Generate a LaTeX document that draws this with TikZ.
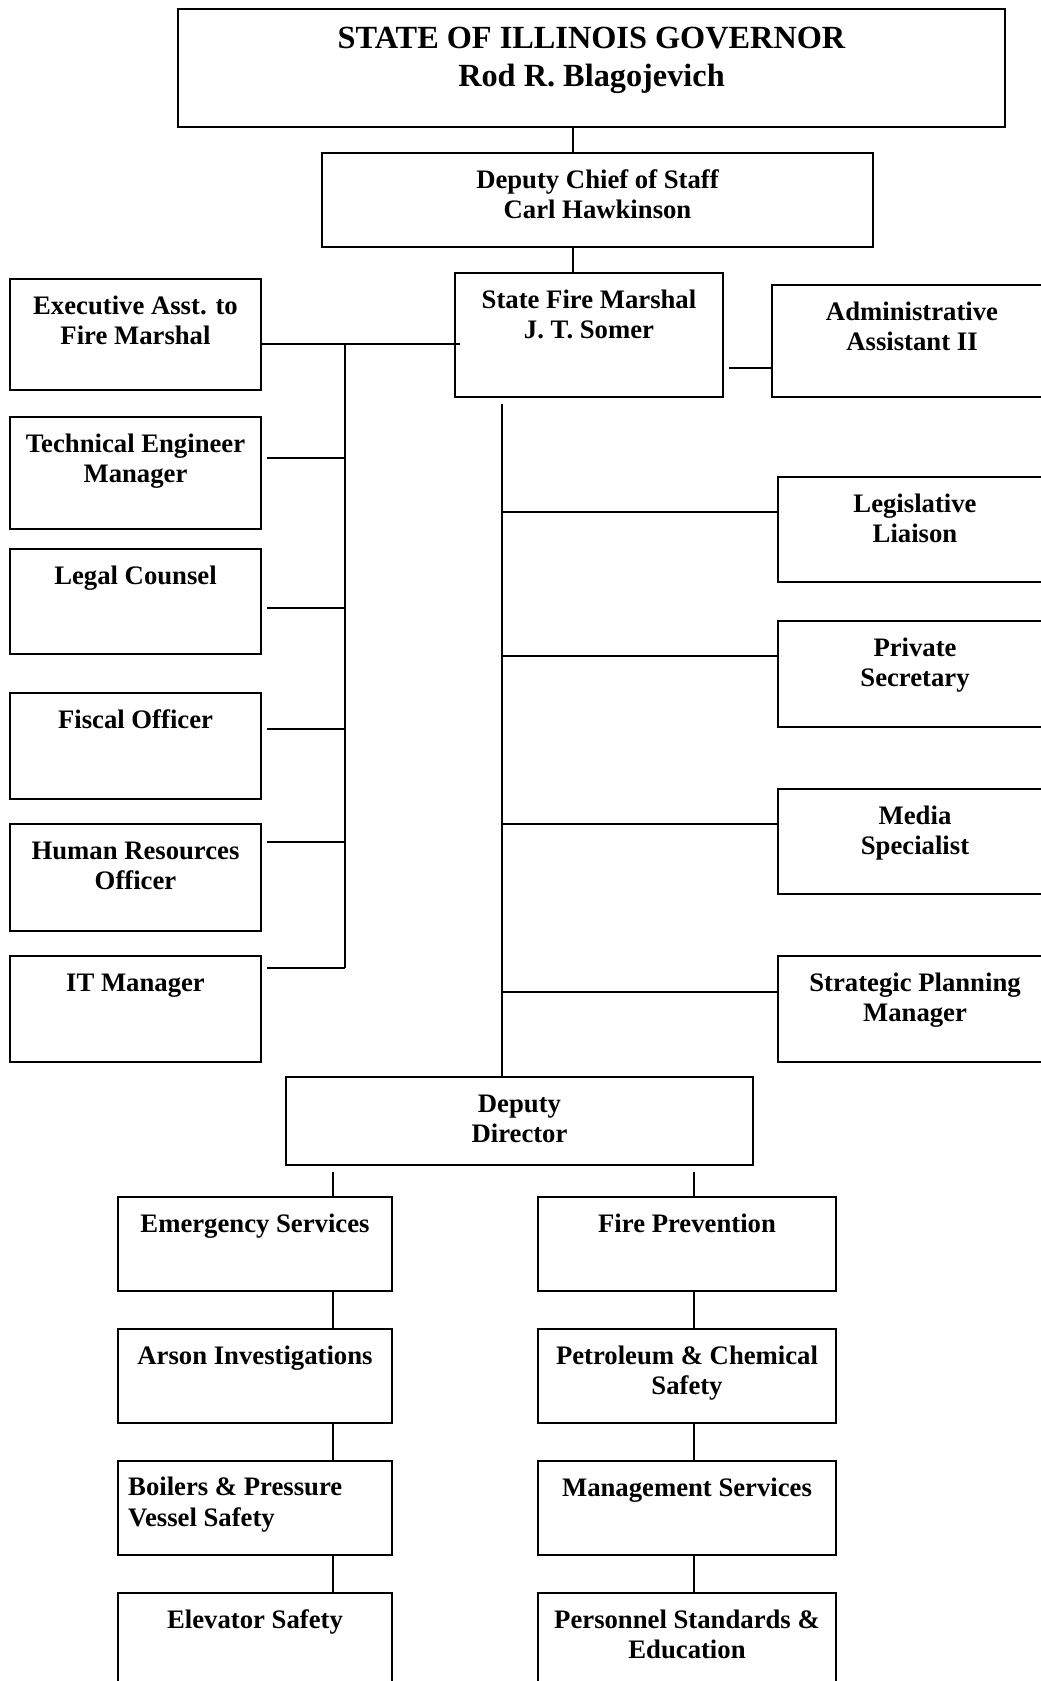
\documentclass[tikz,border=0pt]{standalone}
\usepackage{fontspec}
\setmainfont{Liberation Serif}
\usetikzlibrary{positioning}

\tikzset{
  unit/.style={draw, line width=2.3pt, anchor=north west, inner sep=0pt, outer sep=0pt},
  lbl/.style={anchor=north, align=center, inner sep=0pt,
    font=\fontsize{26.7}{30.5}\selectfont\bfseries},
  biglbl/.style={lbl, font=\fontsize{32.3}{38}\selectfont\bfseries},
  link/.style={line width=2.3pt},
}

\begin{document}
\begin{tikzpicture}[x=1pt, y=-1pt]
        \useasboundingbox (0,0) rectangle (1041,1681);
        \clip (0,0) rectangle (1041,1681);
        % top of the chart
        \node[unit, minimum width=827pt, minimum height=118pt] (gov) at (178,9) {};
        \node[biglbl] (govt) at ([yshift=-13pt]gov.north) {\strut STATE OF ILLINOIS GOVERNOR\\Rod R. Blagojevich};
        \node[unit, minimum width=551pt, minimum height=94pt] (dcs) at (322,153) {};
        \node[lbl] (dcst) at ([yshift=-13.5pt]dcs.north) {\strut Deputy Chief of Staff\\Carl Hawkinson};
        \node[unit, minimum width=268pt, minimum height=124pt] (sfm) at (455,273) {};
        \node[lbl] (sfmt) at ([yshift=-13.5pt]sfm.north) {\strut State Fire Marshal\\J. T. Somer};
        \node[unit, minimum width=280pt, minimum height=112pt] (adm) at (772,285) {};
        \node[lbl] (admt) at ([yshift=-13.5pt]adm.north) {\strut Administrative\\Assistant II};

        % staff on the left
        \node[unit, minimum width=251pt, minimum height=111pt] (exec) at (10,279) {};
        \node[lbl] (exect) at ([yshift=-13.5pt]exec.north) {\strut Executive Asst. to\\Fire Marshal};
        \node[unit, minimum width=251pt, minimum height=112pt] (tech) at (10,417) {};
        \node[lbl] (techt) at ([yshift=-13.5pt]tech.north) {\strut Technical Engineer\\Manager};
        \node[unit, minimum width=251pt, minimum height=105pt] (legal) at (10,549) {};
        \node[lbl] (legalt) at ([yshift=-13.5pt]legal.north) {\strut Legal Counsel};
        \node[unit, minimum width=251pt, minimum height=106pt] (fiscal) at (10,693) {};
        \node[lbl] (fiscalt) at ([yshift=-13.5pt]fiscal.north) {\strut Fiscal Officer};
        \node[unit, minimum width=251pt, minimum height=107pt] (hr) at (10,824) {};
        \node[lbl] (hrt) at ([yshift=-13.5pt]hr.north) {\strut Human Resources\\Officer};
        \node[unit, minimum width=251pt, minimum height=106pt] (itm) at (10,956) {};
        \node[lbl] (itmt) at ([yshift=-13.5pt]itm.north) {\strut IT Manager};

        % staff on the right
        \node[unit, minimum width=274pt, minimum height=105pt] (leg) at (778,477) {};
        \node[lbl] (legt) at ([yshift=-13.5pt]leg.north) {\strut Legislative\\Liaison};
        \node[unit, minimum width=274pt, minimum height=106pt] (priv) at (778,621) {};
        \node[lbl] (privt) at ([yshift=-13.5pt]priv.north) {\strut Private\\Secretary};
        \node[unit, minimum width=274pt, minimum height=105pt] (media) at (778,789) {};
        \node[lbl] (mediat) at ([yshift=-13.5pt]media.north) {\strut Media\\Specialist};
        \node[unit, minimum width=274pt, minimum height=106pt] (strat) at (778,956) {};
        \node[lbl] (stratt) at ([yshift=-13.5pt]strat.north) {\strut Strategic Planning\\Manager};

        % deputy director and divisions
        \node[unit, minimum width=467pt, minimum height=88pt] (dd) at (286,1077) {};
        \node[lbl] (ddt) at ([yshift=-13.5pt]dd.north) {\strut Deputy\\Director};
        \node[unit, minimum width=274pt, minimum height=94pt] (es) at (118,1197) {};
        \node[lbl] (est) at ([yshift=-13.5pt]es.north) {\strut Emergency Services};
        \node[unit, minimum width=274pt, minimum height=94pt] (ai) at (118,1329) {};
        \node[lbl] (ait) at ([yshift=-13.5pt]ai.north) {\strut Arson Investigations};
        \node[unit, minimum width=274pt, minimum height=94pt] (bp) at (118,1461) {};
        \node[lbl, anchor=north west, align=left] (bpt) at ([xshift=10pt,yshift=-13pt]bp.north west) {\strut Boilers \& Pressure\\Vessel Safety};
        \node[unit, minimum width=274pt, minimum height=94pt] (el) at (118,1593) {};
        \node[lbl] (elt) at ([yshift=-13.5pt]el.north) {\strut Elevator Safety};
        \node[unit, minimum width=298pt, minimum height=94pt] (fp) at (538,1197) {};
        \node[lbl] (fpt) at ([yshift=-13.5pt]fp.north) {\strut Fire Prevention};
        \node[unit, minimum width=298pt, minimum height=94pt] (pc) at (538,1329) {};
        \node[lbl] (pct) at ([yshift=-13.5pt]pc.north) {\strut Petroleum \& Chemical\\Safety};
        \node[unit, minimum width=298pt, minimum height=94pt] (ms) at (538,1461) {};
        \node[lbl] (mst) at ([yshift=-13.5pt]ms.north) {\strut Management Services};
        \node[unit, minimum width=298pt, minimum height=94pt] (ps) at (538,1593) {};
        \node[lbl] (pst) at ([yshift=-13.5pt]ps.north) {\strut Personnel Standards \&\\Education};

        % points on the lines
        \coordinate (spine) at (573,0);
        \coordinate (ltop) at (345,344);
        \coordinate (ltech) at (345,458);
        \coordinate (llegal) at (345,608);
        \coordinate (lfiscal) at (345,729);
        \coordinate (lhr) at (345,842);
        \coordinate (litm) at (345,968);
        \coordinate (rtop) at (502,404);
        \coordinate (rleg) at (502,512);
        \coordinate (rpriv) at (502,656);
        \coordinate (rmedia) at (502,824);
        \coordinate (rstrat) at (502,992);
        \coordinate (aa) at (729,368);
        \coordinate (lcol) at (333,0);
        \coordinate (rcol) at (694,0);

        % chain of command
        \draw[link] (spine |- gov.south) -- (spine |- dcs.north);
        \draw[link] (spine |- dcs.south) -- (spine |- sfm.north);
        \draw[link] (exec.east |- ltop) -- ([xshift=5pt]sfm.west |- ltop);
        \draw[link] (aa) -- (adm.west |- aa);
        \draw[link] (ltop) -- (litm);
        \draw[link] ([xshift=6pt]tech.east |- ltech) -- (ltech);
        \draw[link] ([xshift=6pt]legal.east |- llegal) -- (llegal);
        \draw[link] ([xshift=6pt]fiscal.east |- lfiscal) -- (lfiscal);
        \draw[link] ([xshift=6pt]hr.east |- lhr) -- (lhr);
        \draw[link] ([xshift=6pt]itm.east |- litm) -- (litm);
        \draw[link] (rtop) -- (rtop |- dd.north);
        \draw[link] (rleg) -- (leg.west |- rleg);
        \draw[link] (rpriv) -- (priv.west |- rpriv);
        \draw[link] (rmedia) -- (media.west |- rmedia);
        \draw[link] (rstrat) -- (strat.west |- rstrat);

        % divisions
        \draw[link] ([yshift=-7pt]dd.south -| lcol) -- (es.north -| lcol);
        \draw[link] (es.south -| lcol) -- (ai.north -| lcol);
        \draw[link] (ai.south -| lcol) -- (bp.north -| lcol);
        \draw[link] (bp.south -| lcol) -- (el.north -| lcol);
        \draw[link] ([yshift=-7pt]dd.south -| rcol) -- (fp.north -| rcol);
        \draw[link] (fp.south -| rcol) -- (pc.north -| rcol);
        \draw[link] (pc.south -| rcol) -- (ms.north -| rcol);
        \draw[link] (ms.south -| rcol) -- (ps.north -| rcol);
    \end{tikzpicture}
\end{document}
